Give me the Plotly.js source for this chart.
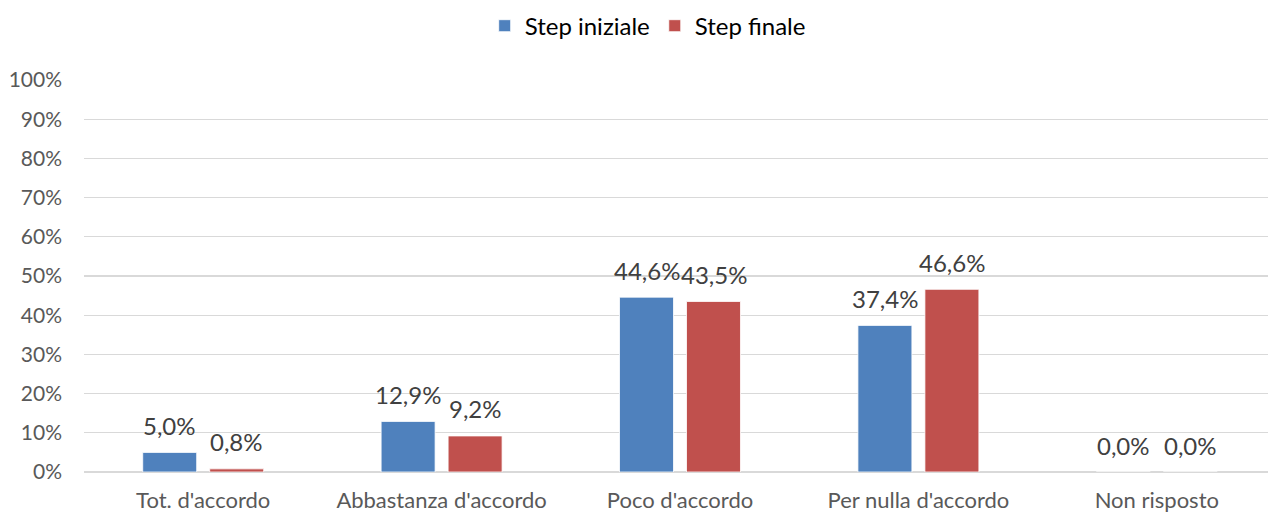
<!DOCTYPE html>
<html>
<head>
<meta charset="utf-8">
<script src="https://cdn.plot.ly/plotly-3.0.1.min.js"></script>
<style>html,body{margin:0;padding:0;overflow:hidden;background:#fff;}#chart{width:1268px;height:513px;}</style>
</head>
<body>
<div id="chart"></div>
<script>
const categories = ["Tot. d'accordo", "Abbastanza d'accordo", "Poco d'accordo", "Per nulla d'accordo", "Non risposto"];
const stepIniziale = [0.050, 0.129, 0.446, 0.374, 0.000];
const stepFinale = [0.008, 0.092, 0.435, 0.466, 0.000];
const seriesNames = ["Step iniziale", "Step finale"];
const yTickVals = [0, 0.1, 0.2, 0.3, 0.4, 0.5, 0.6, 0.7, 0.8, 0.9, 1.0];
const yTickText = ["0%", "10%", "20%", "30%", "40%", "50%", "60%", "70%", "80%", "90%", "100%"];

const FONT = "Lato, 'Open Sans', sans-serif";
const colors = ["#4F81BD", "#C0504D"];
const seriesData = [stepIniziale, stepFinale];

const traces = seriesData.map((vals, i) => ({
  type: 'bar',
  name: seriesNames[i],
  x: categories,
  y: vals,
  marker: {color: colors[i], line: {color: '#ffffff', width: 0.8}},
  hoverinfo: 'none'
}));

function fmt(v) {
  return (v * 100).toFixed(1).replace('.', ',') + '%';
}

const annotations = [];
seriesData.forEach((vals, i) => {
  vals.forEach((v, j) => {
    annotations.push({
      x: categories[j], y: v, xref: 'x', yref: 'y',
      text: fmt(v), showarrow: false,
      xanchor: 'center', yanchor: 'middle',
      xshift: i === 0 ? -33.5 : 33.5, yshift: 27,
      font: {family: FONT, size: 24, color: '#404040'}
    });
  });
});

const layout = {
  width: 1280, height: 513,
  margin: {l: 84, r: 4, t: 80, b: 41},
  paper_bgcolor: '#ffffff', plot_bgcolor: '#ffffff',
  barmode: 'group',
  bargap: 0.438,
  bargroupgap: 0.194,
  font: {family: FONT, color: '#595959'},
  showlegend: true,
  legend: {
    orientation: 'h', xref: 'container', yref: 'container',
    x: 0.506, xanchor: 'center', y: 0.993, yanchor: 'top',
    font: {family: FONT, size: 24, color: '#000000'},
    traceorder: 'normal', itemclick: false, itemwidth: 30
  },
  xaxis: {
    type: 'category',
    showgrid: false, zeroline: false, showline: false,
    ticks: '', tickfont: {family: FONT, size: 22, color: '#595959'},
    ticklabelstandoff: 13
  },
  yaxis: {
    range: [0, 1], tickvals: yTickVals, ticktext: yTickText,
    showgrid: true, gridcolor: '#d9d9d9', gridwidth: 1.3,
    zeroline: true, zerolinecolor: '#d9d9d9', zerolinewidth: 1.3,
    showline: false, ticks: '',
    tickfont: {family: FONT, size: 21, color: '#595959'},
    ticklabelstandoff: 21
  },
  annotations: annotations
};

Plotly.newPlot('chart', traces, layout, {displayModeBar: false, staticPlot: true});
</script>
</body>
</html>
